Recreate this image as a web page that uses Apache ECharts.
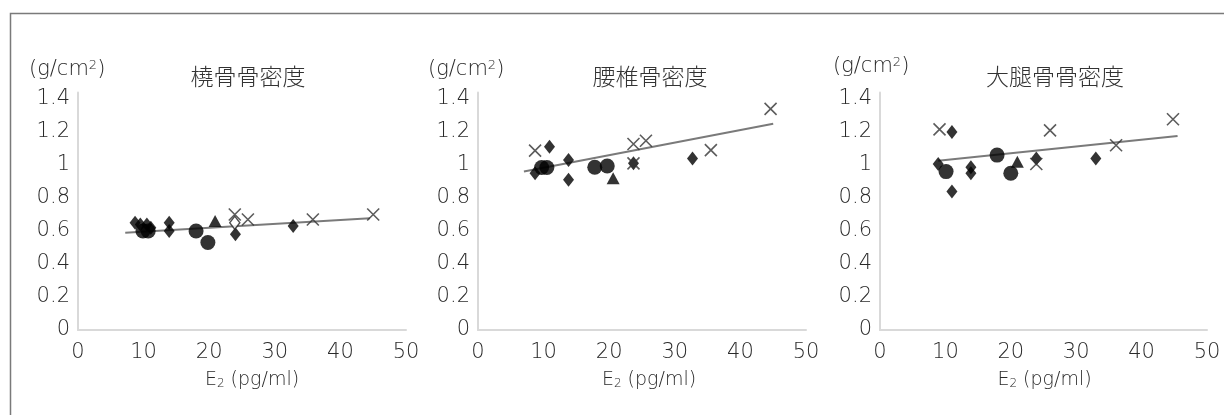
<!DOCTYPE html>
<html>
<head>
<meta charset="utf-8">
<script src="https://cdn.jsdelivr.net/npm/echarts@6/dist/echarts.min.js"></script>
<style>
html, body { margin: 0; padding: 0; background: #fff; }
#main { width: 1224px; height: 415px; }
</style>
</head>
<body>
<div id="main"></div>
<script>
// panel titles
const titles = ['橈骨骨密度', '腰椎骨密度', '大腿骨骨密度'];
const xTicks = [0, 10, 20, 30, 40, 50];
const yTicks = [0, 0.2, 0.4, 0.6, 0.8, 1, 1.2, 1.4];

// 橈骨
const radiusDiamond = [[8.7, 0.65], [9.5, 0.64], [10.5, 0.64], [11.1, 0.62], [13.9, 0.65], [13.9, 0.60], [24.0, 0.58], [32.8, 0.63]];
const radiusCircle = [[9.9, 0.60], [10.7, 0.60], [18.0, 0.60], [19.8, 0.53]];
const radiusTriangle = [[20.9, 0.66]];
const radiusCross = [[23.9, 0.70], [25.9, 0.67], [35.8, 0.67], [45.0, 0.70]];
const radiusHollow = [[23.9, 0.65]];
const radiusTrend = [[7.2, 0.59], [44.5, 0.677]];

// 腰椎
const lumbarDiamond = [[8.7, 0.95], [10.9, 1.11], [13.8, 1.03], [13.8, 0.91], [23.7, 1.01], [32.7, 1.04]];
const lumbarCircle = [[9.7, 0.985], [10.5, 0.985], [17.8, 0.986], [19.7, 0.994]];
const lumbarTriangle = [[20.6, 0.92]];
const lumbarCross = [[8.7, 1.087], [23.7, 1.127], [25.6, 1.147], [23.7, 1.01], [35.5, 1.09], [44.6, 1.34]];
const lumbarHollow = [];
const lumbarTrend = [[7.0, 0.96], [45.0, 1.25]];

// 大腿骨
const femurDiamond = [[11.0, 1.20], [8.9, 1.006], [11.0, 0.84], [13.9, 0.986], [13.9, 0.95], [23.9, 1.04], [33.0, 1.04]];
const femurCircle = [[10.1, 0.96], [17.9, 1.06], [20.0, 0.95]];
const femurTriangle = [[21.0, 1.02]];
const femurCross = [[9.1, 1.216], [26.0, 1.21], [23.9, 1.006], [36.1, 1.12], [44.8, 1.277]];
const femurHollow = [];
const femurTrend = [[8.9, 1.026], [45.5, 1.176]];

const panels = [
    { diamond: radiusDiamond, circle: radiusCircle, triangle: radiusTriangle, cross: radiusCross, hollow: radiusHollow, trend: radiusTrend },
    { diamond: lumbarDiamond, circle: lumbarCircle, triangle: lumbarTriangle, cross: lumbarCross, hollow: lumbarHollow, trend: lumbarTrend },
    { diamond: femurDiamond, circle: femurCircle, triangle: femurTriangle, cross: femurCross, hollow: femurHollow, trend: femurTrend }
];

const CJK = 'Noto Sans CJK JP';
const LATIN = 'DejaVu Sans';
const TEXT = '#2a2a2a';
const gridLeft = [78, 478, 880];
const gridWidth = [328, 328, 327];
const titleX = [248, 650, 1055];
const unitX = [29, 428, 833];
const unitY = [70, 70, 67];
const namePad = [20, 14, 2];

let chart = echarts.init(document.getElementById('main'), null, { renderer: 'canvas' });

let grids = [], xAxes = [], yAxes = [], series = [], graphics = [];

graphics.push({
    type: 'rect',
    shape: { x: 10.5, y: 13.5, width: 1400, height: 600 },
    style: { fill: 'none', stroke: '#7a7a7a', lineWidth: 1.5 }
});

panels.forEach((p, i) => {
    grids.push({ left: gridLeft[i], width: gridWidth[i], top: 92.4, height: 237.6 });
    xAxes.push({
        gridIndex: i, type: 'value',
        min: xTicks[0], max: xTicks[xTicks.length - 1], interval: 10,
        axisLine: { lineStyle: { color: '#d9d9d9', width: 2 } },
        axisTick: { show: false },
        splitLine: { show: false },
        axisLabel: { fontSize: 21, color: TEXT, fontFamily: LATIN, fontWeight: 200, margin: 12 },
        name: '{e|E}{s|2}{t| (pg/ml)}',
        nameLocation: 'middle',
        nameGap: 41,
        nameTextStyle: {
            padding: [0, 0, 0, namePad[i]],
            rich: {
                e: { fontSize: 19, color: TEXT, fontFamily: LATIN, fontWeight: 200 },
                s: { fontSize: 12, color: TEXT, fontFamily: LATIN, fontWeight: 200, verticalAlign: 'bottom', lineHeight: 13 },
                t: { fontSize: 19, color: TEXT, fontFamily: LATIN, fontWeight: 200 }
            }
        }
    });
    yAxes.push({
        gridIndex: i, type: 'value',
        min: yTicks[0], max: 1.44, interval: 0.2,
        axisLine: { show: true, lineStyle: { color: '#d9d9d9', width: 2 } },
        axisTick: { show: false },
        splitLine: { show: false },
        axisLabel: {
            fontSize: 21, color: TEXT, fontFamily: LATIN, fontWeight: 200, margin: 8,
            padding: [6, 0, 0, 0],
            showMaxLabel: false,
            formatter: v => String(Math.round(v * 10) / 10)
        }
    });

    series.push({
        type: 'line', xAxisIndex: i, yAxisIndex: i, data: p.trend,
        symbol: 'none', lineStyle: { color: '#7a7a7a', width: 2 }, z: 1, silent: true
    });
    series.push({
        type: 'scatter', xAxisIndex: i, yAxisIndex: i, data: p.diamond,
        symbol: 'diamond', symbolSize: [11, 14], itemStyle: { color: '#000' }, z: 3
    });
    series.push({
        type: 'scatter', xAxisIndex: i, yAxisIndex: i, data: p.circle,
        symbol: 'circle', symbolSize: 15, itemStyle: { color: '#000' }, z: 3
    });
    series.push({
        type: 'scatter', xAxisIndex: i, yAxisIndex: i, data: p.triangle,
        symbol: 'triangle', symbolSize: [13, 12], itemStyle: { color: '#000' }, z: 3
    });
    series.push({
        type: 'scatter', xAxisIndex: i, yAxisIndex: i, data: p.cross,
        symbol: 'path://M0,0L10,10M10,0L0,10', symbolSize: 12,
        itemStyle: { color: 'none', borderColor: '#333', borderWidth: 1.6 }, z: 4
    });
    series.push({
        type: 'scatter', xAxisIndex: i, yAxisIndex: i, data: p.hollow,
        symbol: 'diamond', symbolSize: [10, 13],
        itemStyle: { color: '#fff', borderColor: '#222', borderWidth: 1.5 }, z: 3
    });

    graphics.push({
        type: 'text', x: titleX[i], y: 76,
        style: { text: titles[i], fontSize: 23, fontFamily: CJK, fontWeight: 300, fill: '#333', align: 'center', verticalAlign: 'middle' }
    });
    graphics.push({
        type: 'text', x: unitX[i], y: unitY[i],
        style: {
            text: '(g/cm{sup|2})', fontSize: 21, fontFamily: LATIN, fontWeight: 200, fill: TEXT, align: 'left', verticalAlign: 'middle',
            rich: { sup: { fontSize: 13, fill: TEXT, fontFamily: LATIN, fontWeight: 200, verticalAlign: 'top', lineHeight: 12 } }
        }
    });
});

chart.setOption({
    backgroundColor: '#fff',
    animation: false,
    grid: grids,
    xAxis: xAxes,
    yAxis: yAxes,
    series: series,
    graphic: graphics
});
</script>
</body>
</html>
